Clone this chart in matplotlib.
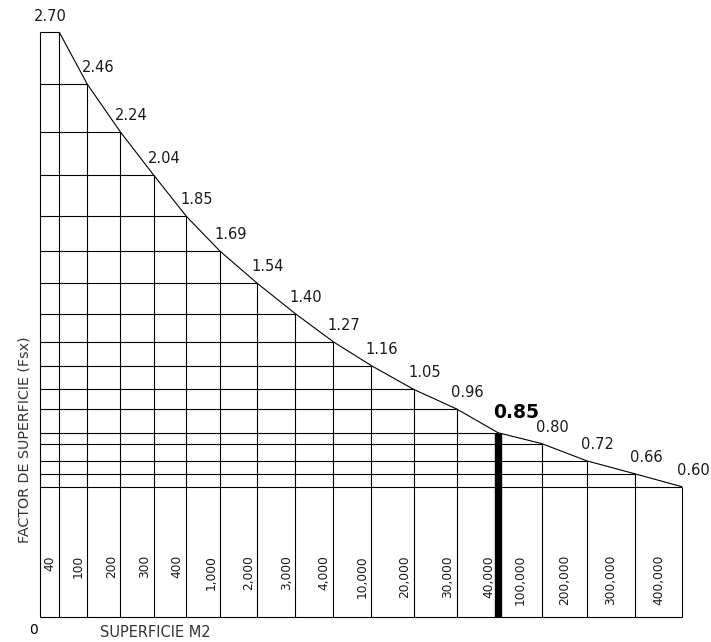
import matplotlib.pyplot as plt
import numpy as np

# data
areas = ['40', '100', '200', '300', '400', '1,000', '2,000', '3,000', '4,000',
         '10,000', '20,000', '30,000', '40,000', '100,000', '200,000', '300,000', '400,000']
factors = [2.70, 2.46, 2.24, 2.04, 1.85, 1.69, 1.54, 1.40, 1.27, 1.16, 1.05,
           0.96, 0.85, 0.80, 0.72, 0.66, 0.60]
highlight = '40,000'

# column widths as drawn in the original sheet (layout only)
col_widths = [19, 28, 33, 33.4, 32.6, 33.4, 37.6, 38, 38, 38, 42.4, 42.8,
              41.5, 43.5, 45.3, 48.2, 47.3]


def main():
    right = np.cumsum(col_widths)
    left = right - np.array(col_widths)
    total = right[-1]
    hi = areas.index(highlight)

    fig = plt.figure(figsize=(7.11, 6.42), dpi=100)
    ax = fig.add_axes([0.0567, 0.0394, 0.9030, 0.9103])
    ax.set_xlim(0, total)
    ax.set_ylim(0, factors[0])
    ax.axis('off')

    kw = dict(color='black', lw=0.8, clip_on=False, solid_capstyle='butt')
    ax.plot([0, 0], [0, factors[0]], **kw)
    ax.plot([0, total], [0, 0], **kw)
    for r, f in zip(right, factors):
        ax.plot([r, r], [0, f], **kw)   # column divider up to the curve
        ax.plot([0, r], [f, f], **kw)   # level line back to the left edge
    ax.plot(right, factors, **kw)

    # the selected column gets a heavy divider
    ax.plot([right[hi], right[hi]], [0, factors[hi]], color='black', lw=5.3,
            solid_capstyle='butt', clip_on=False)

    txt = '#1a1a1a'
    for i, (r, f) in enumerate(zip(right, factors)):
        if i == 0:
            ax.annotate(f'{f:.2f}', ((left[i] + r) / 2, f), xytext=(0, 11.6),
                        textcoords='offset pixels', ha='center', va='baseline',
                        fontsize=10.5, color=txt, annotation_clip=False)
        elif i == hi:
            ax.annotate(f'{f:.2f}', (r, f), xytext=(-5, 15),
                        textcoords='offset pixels', ha='left', va='baseline',
                        fontsize=13.5, fontweight='bold', color='black',
                        annotation_clip=False)
        else:
            ax.annotate(f'{f:.2f}', (r, f), xytext=(-5.5, 12),
                        textcoords='offset pixels', ha='left', va='baseline',
                        fontsize=10.5, color=txt, annotation_clip=False)

    for i, lab in enumerate(areas):
        if i <= hi:
            x = right[i] - 9
        else:
            x = (left[i] + right[i]) / 2
        ax.text(x, 0.285, lab, rotation=90, ha='center', va='top',
                fontsize=8.8, color=txt)

    fig.text(25 / 711, 1 - 440 / 642, 'FACTOR DE SUPERFICIE (Fsx)', rotation=90,
             ha='center', va='center', fontsize=10.3, color='#333333')
    fig.text(100 / 711, 1 - 632.5 / 642, 'SUPERFICIE M2', ha='left', va='center',
             fontsize=10.5, color='#333333')
    fig.text(33.7 / 711, 1 - 630.5 / 642, '0', ha='center', va='center',
             fontsize=10, color='black')

    fig.savefig('out.png', dpi=100)


if __name__ == '__main__':
    main()
